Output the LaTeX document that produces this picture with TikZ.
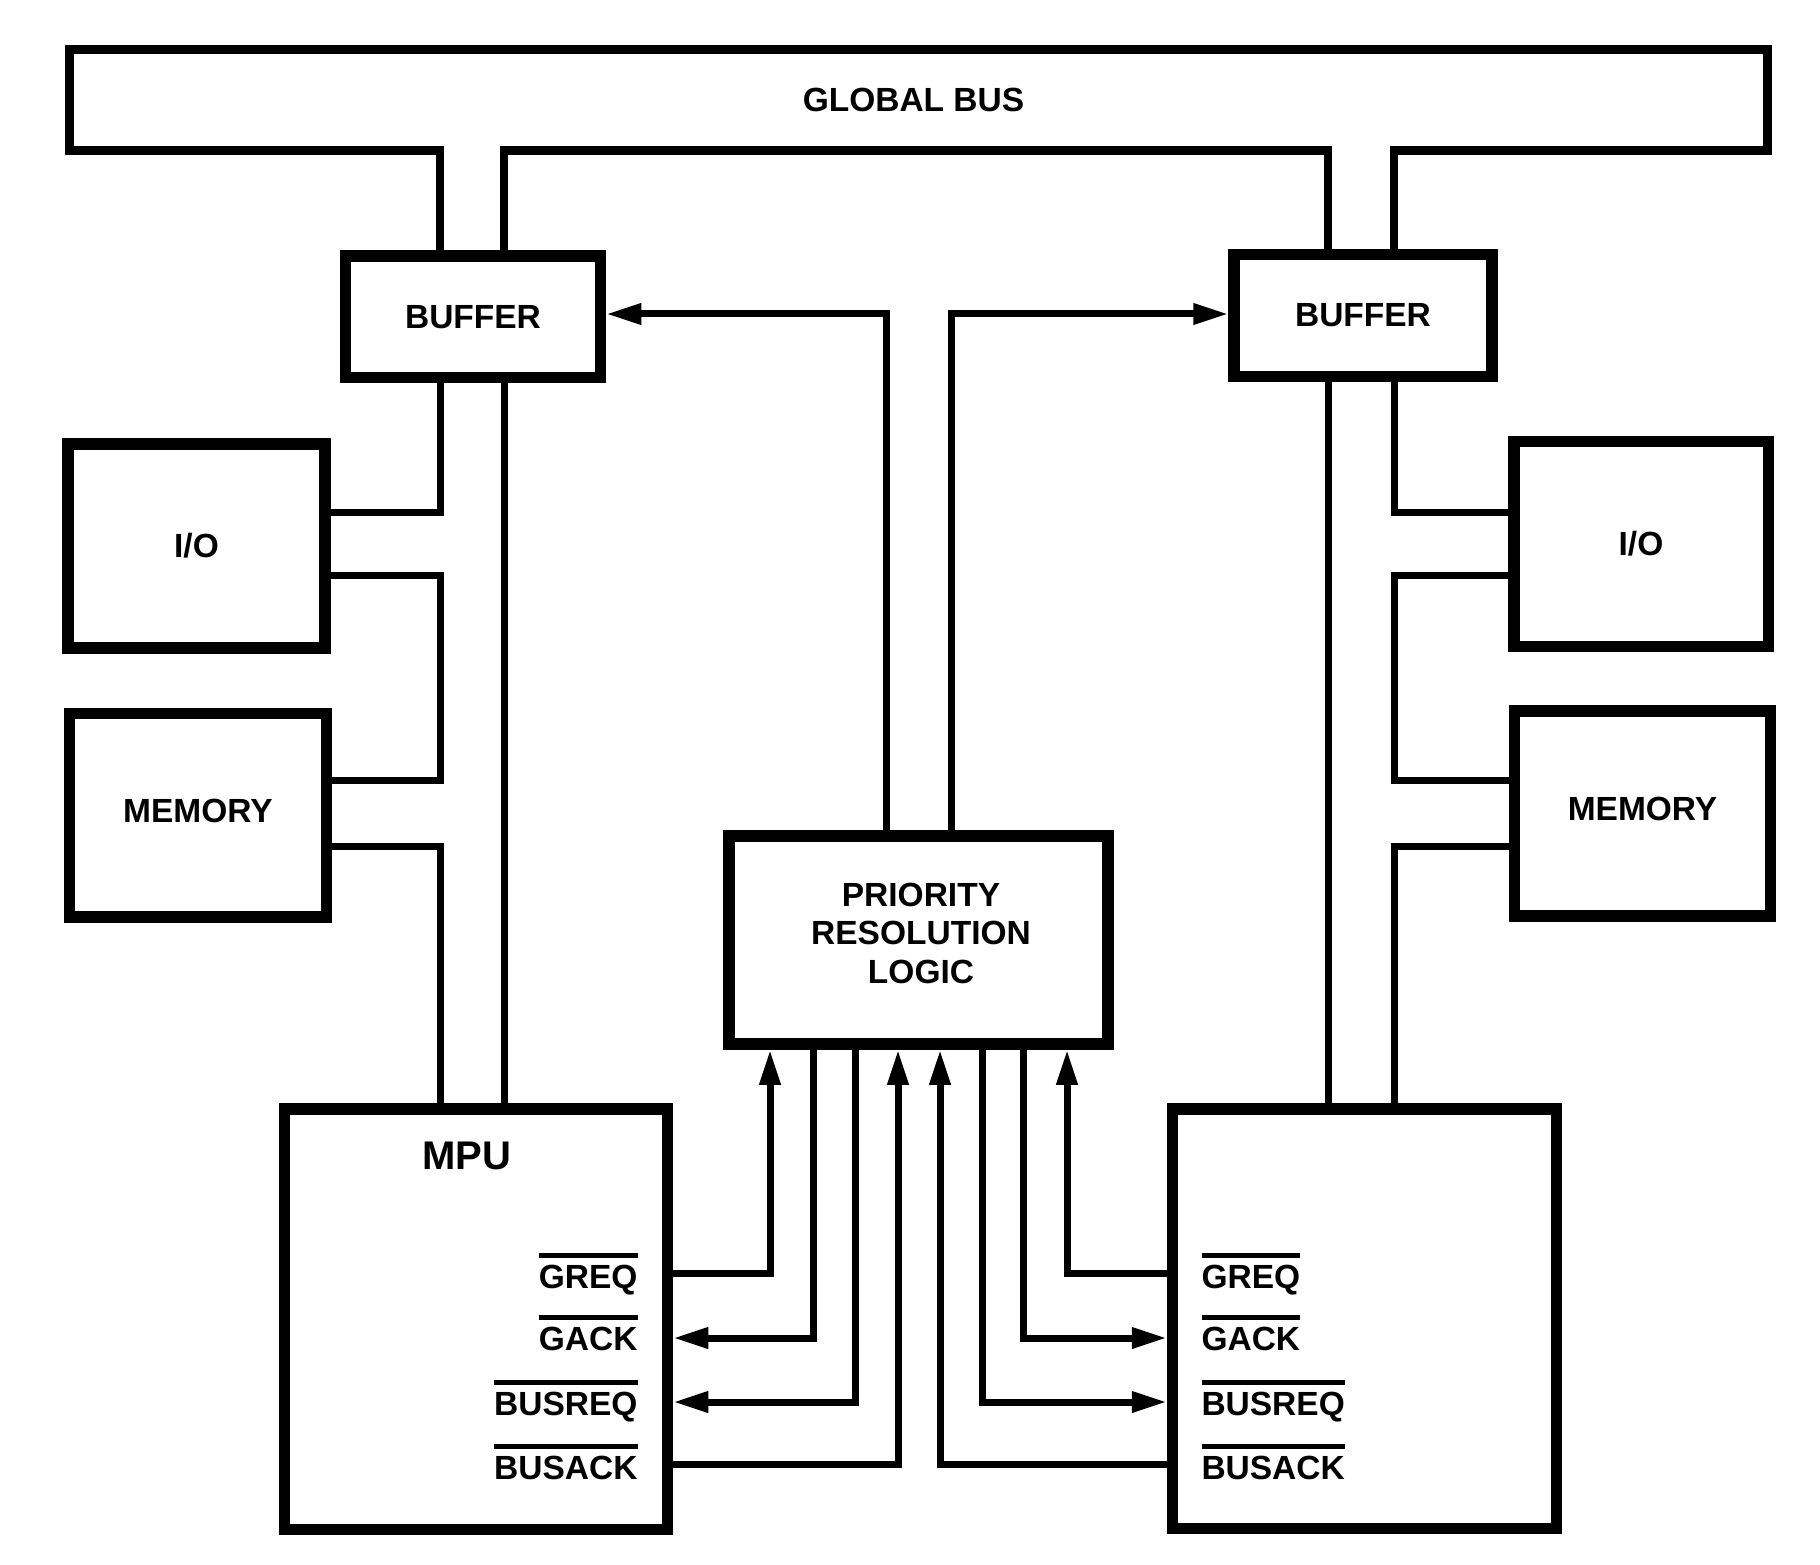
\documentclass[tikz,border=0pt]{standalone}
\usepackage{fontspec}
\setmainfont{Liberation Sans}
\usetikzlibrary{arrows.meta}
\newcommand{\ovbar}[1]{\vbox{\hrule height 2pt\kern 2.6pt\hbox{#1}}}
\begin{document}
\begin{tikzpicture}[x=0.4pt,y=-0.4pt,
  box/.style={draw, line width=4.6pt, font=\fontsize{13.4}{15.4}\selectfont\bfseries, align=center, inner sep=0pt},
  bus/.style={line width=3.4pt},
  wire/.style={line width=2.8pt},
  arr/.style={wire, -{Triangle[length=14pt,width=8pt]}},
  lbl/.style={font=\fontsize{13.4}{15.4}\selectfont\bfseries, inner sep=0pt},
]
\useasboundingbox (0,0) rectangle (1820,1565);

% boxes
\node[box, minimum width=102pt,  minimum height=48.6pt] (bufL) at (473,316.75) {BUFFER};
\node[box, minimum width=103.2pt,minimum height=48.8pt] (bufR) at (1363,315.5) {BUFFER};
\node[box, minimum width=102.8pt,minimum height=81.6pt] (ioL)  at (196.5,546) {I/O};
\node[box, minimum width=102.6pt,minimum height=81.4pt, text depth=3.6pt] (memL) at (198,815) {MEMORY};
\node[box, minimum width=101.8pt,minimum height=82pt]   (ioR)  at (1641,544) {I/O};
\node[box, minimum width=102.4pt,minimum height=82pt, text depth=3.6pt]   (memR) at (1642.5,813.5) {MEMORY};
\node[box, minimum width=153.2pt,minimum height=168.2pt] (mpuL) at (476,1319) {};
\node[box, minimum width=153.6pt,minimum height=167.8pt] (mpuR) at (1364.5,1318.75) {};
\node[box, minimum width=151.6pt,minimum height=83.2pt] (prl) at (918.5,940) {};

% texts
\node[lbl, align=center] (prltxt) at (921,933) {PRIORITY\\RESOLUTION\\LOGIC};
\node[lbl] (gbus) at (913.5,100) {GLOBAL BUS};
\node[lbl, font=\fontsize{16}{18}\selectfont\bfseries, anchor=base] (mputxt) at (467,1169) {MPU};
\node[lbl, anchor=base east] (lgreq) at (638,1288) {\ovbar{GREQ}};
\node[lbl, anchor=base east] (lgack) at (638,1350) {\ovbar{GACK}};
\node[lbl, anchor=base east] (lbreq) at (638,1415) {\ovbar{BUSREQ}};
\node[lbl, anchor=base east] (lback) at (638,1479) {\ovbar{BUSACK}};
\node[lbl, anchor=base west] (rgreq) at (1201,1288) {\ovbar{GREQ}};
\node[lbl, anchor=base west] (rgack) at (1201,1350) {\ovbar{GACK}};
\node[lbl, anchor=base west] (rbreq) at (1201,1415) {\ovbar{BUSREQ}};
\node[lbl, anchor=base west] (rback) at (1201,1479) {\ovbar{BUSACK}};

% reference columns / rows
\coordinate (xA) at (440,0);
\coordinate (xB) at (504,0);
\coordinate (xC) at (1328,0);
\coordinate (xD) at (1394,0);
\coordinate (xL) at (69.5,0);
\coordinate (xR) at (1767.5,0);
\coordinate (yTop) at (0,49.5);
\coordinate (yBus) at (0,150.5);
\coordinate (y1) at (0,512);
\coordinate (y2) at (0,575);
\coordinate (y3) at (0,780);
\coordinate (y4) at (0,846);
\coordinate (xE) at (886,0);
\coordinate (xF) at (951,0);
\coordinate (yArr) at (0,314);
\coordinate (c1) at (770,0);
\coordinate (c2) at (813,0);
\coordinate (c3) at (855,0);
\coordinate (c4) at (898,0);
\coordinate (c5) at (940,0);
\coordinate (c6) at (982,0);
\coordinate (c7) at (1023,0);
\coordinate (c8) at (1067,0);
\coordinate (r1) at (0,1273);
\coordinate (r2) at (0,1338);
\coordinate (r3) at (0,1402);
\coordinate (r4) at (0,1464);

% global bus
\draw[bus] (bufL.north -| xA) -- (xA |- yBus) -- (xL |- yBus) -- (xL |- yTop)
  -- (xR |- yTop) -- (xR |- yBus) -- (xD |- yBus) -- (bufR.north -| xD);
\draw[bus] (bufL.north -| xB) -- (xB |- yBus) -- (xC |- yBus) -- (bufR.north -| xC);

% local buses left
\draw[wire] (bufL.south -| xA) |- (ioL.east |- y1);
\draw[wire] (ioL.east |- y2) -| (xA |- y3) -- (memL.east |- y3);
\draw[wire] (memL.east |- y4) -| (mpuL.north -| xA);
\draw[wire] (bufL.south -| xB) -- (mpuL.north -| xB);
% local buses right
\draw[wire] (bufR.south -| xD) |- (ioR.west |- y1);
\draw[wire] (ioR.west |- y2) -| (xD |- y3) -- (memR.west |- y3);
\draw[wire] (memR.west |- y4) -| (mpuR.north -| xD);
\draw[wire] (bufR.south -| xC) -- (mpuR.north -| xC);

% priority logic to buffers
\draw[arr] (prl.north -| xE) |- (bufL.east |- yArr);
\draw[arr] (prl.north -| xF) |- (bufR.west |- yArr);

% handshake lines
\draw[arr] (mpuL.east |- r1) -| (prl.south -| c1);
\draw[arr] (prl.south -| c2) |- (mpuL.east |- r2);
\draw[arr] (prl.south -| c3) |- (mpuL.east |- r3);
\draw[arr] (mpuL.east |- r4) -| (prl.south -| c4);
\draw[arr] (mpuR.west |- r4) -| (prl.south -| c5);
\draw[arr] (prl.south -| c6) |- (mpuR.west |- r3);
\draw[arr] (prl.south -| c7) |- (mpuR.west |- r2);
\draw[arr] (mpuR.west |- r1) -| (prl.south -| c8);
\end{tikzpicture}
\end{document}
